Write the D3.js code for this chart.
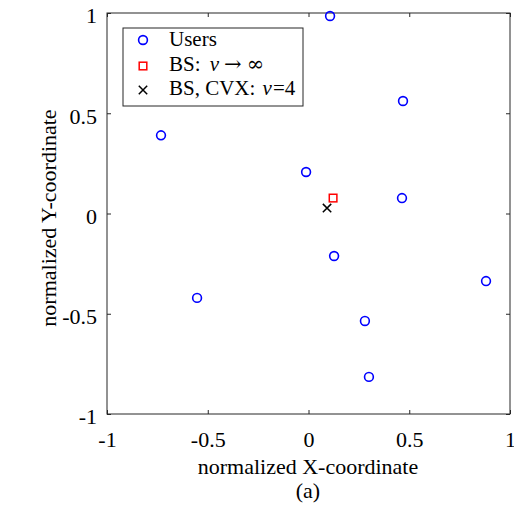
<!DOCTYPE html>
<html lang="en">
<head>
  <meta charset="UTF-8">
  <title>User and BS locations</title>
  <style>
    body { margin: 0; background: #fff; }
  </style>
  <script src="https://cdn.jsdelivr.net/npm/d3@7"></script>
</head>
<body>
  <script>
    // user locations (normalized)
    var usersX = [0.107, -0.732, 0.469, -0.012, 0.464, 0.127, -0.553, 0.881, 0.280, 0.300];
    var usersY = [0.985, 0.390, 0.561, 0.207, 0.077, -0.212, -0.421, -0.337, -0.536, -0.815];
    // BS for nu -> infinity
    var bsInfX = [0.122];
    var bsInfY = [0.077];
    // BS found by CVX for nu = 4
    var bsCvxX = [0.092];
    var bsCvxY = [0.027];
    var ticks = [-1, -0.5, 0, 0.5, 1];

    var W = 514, H = 506;
    var m = { left: 107, top: 13, right: 4, bottom: 92 };
    var w = W - m.left - m.right;
    var h = H - m.top - m.bottom;
    var axisColor = "#262626";
    var serif = "'Liberation Serif', 'Times New Roman', Times, serif";

    var svg = d3.select("body").append("svg").attr("width", W).attr("height", H)
      .attr("font-family", serif);
    var g = svg.append("g").attr("transform", "translate(" + m.left + "," + m.top + ")");

    var x = d3.scaleLinear().domain([-1, 1]).range([0, w]);
    var y = d3.scaleLinear().domain([-1, 1]).range([h, 0]);

    var fmt = function(d) { return String(d); };

    // axes with inward ticks, box on
    function styleAxis(sel) {
      sel.attr("font-family", serif).attr("font-size", 22);
      sel.select(".domain").remove();
      sel.selectAll("line").attr("stroke", axisColor);
      sel.selectAll("text").attr("fill", "#000");
    }
    g.append("g").attr("transform", "translate(0," + h + ")")
      .call(d3.axisBottom(x).tickValues(ticks).tickSizeInner(-4).tickSizeOuter(0).tickPadding(17).tickFormat(fmt))
      .call(styleAxis);
    g.append("g")
      .call(d3.axisTop(x).tickValues(ticks).tickSizeInner(-4).tickSizeOuter(0).tickFormat(""))
      .call(styleAxis);
    g.append("g")
      .call(d3.axisLeft(y).tickValues(ticks).tickSizeInner(-4).tickSizeOuter(0).tickPadding(10).tickFormat(fmt))
      .call(styleAxis)
      .selectAll("text").attr("dy", "0.45em");
    g.append("g").attr("transform", "translate(" + w + ",0)")
      .call(d3.axisRight(y).tickValues(ticks).tickSizeInner(-4).tickSizeOuter(0).tickFormat(""))
      .call(styleAxis);
    g.append("rect").attr("width", w).attr("height", h)
      .attr("fill", "none").attr("stroke", axisColor).attr("stroke-width", 1);

    // markers
    var users = usersX.map(function(v, i) { return [v, usersY[i]]; });
    g.selectAll(".user").data(users).enter().append("circle")
      .attr("class", "user")
      .attr("cx", function(d) { return x(d[0]); })
      .attr("cy", function(d) { return y(d[1]); })
      .attr("r", 4.4)
      .attr("fill", "none").attr("stroke", "#0000ff").attr("stroke-width", 1.6);

    var bsInf = bsInfX.map(function(v, i) { return [v, bsInfY[i]]; });
    g.selectAll(".bsinf").data(bsInf).enter().append("rect")
      .attr("x", function(d) { return x(d[0]) - 3.8; })
      .attr("y", function(d) { return y(d[1]) - 3.8; })
      .attr("width", 7.6).attr("height", 7.6)
      .attr("fill", "none").attr("stroke", "#ff0000").attr("stroke-width", 1.5);

    function cross(sel, s) {
      sel.append("path")
        .attr("d", "M" + (-s) + "," + (-s) + "L" + s + "," + s + "M" + (-s) + "," + s + "L" + s + "," + (-s))
        .attr("stroke", "#000").attr("stroke-width", 1.5).attr("fill", "none");
    }
    var bsCvx = bsCvxX.map(function(v, i) { return [v, bsCvxY[i]]; });
    g.selectAll(".bscvx").data(bsCvx).enter().append("g")
      .attr("transform", function(d) { return "translate(" + x(d[0]) + "," + y(d[1]) + ")"; })
      .call(cross, 4.2);

    // axis labels
    svg.append("text").attr("x", 308).attr("y", 474).attr("text-anchor", "middle")
      .attr("font-size", 22).text("normalized X-coordinate");
    svg.append("text").attr("x", 308).attr("y", 498).attr("text-anchor", "middle")
      .attr("font-size", 22).text("(a)");
    svg.append("text").attr("transform", "translate(56,218)rotate(-90)").attr("text-anchor", "middle")
      .attr("font-size", 22).text("normalized Y-coordinate");

    // legend
    var lg = svg.append("g").attr("transform", "translate(123,28)");
    lg.append("rect").attr("width", 180).attr("height", 78)
      .attr("fill", "#fff").attr("stroke", axisColor).attr("stroke-width", 1);
    var rows = [12, 38, 62];
    lg.append("circle").attr("cx", 20).attr("cy", rows[0]).attr("r", 4.4)
      .attr("fill", "none").attr("stroke", "#0000ff").attr("stroke-width", 1.6);
    lg.append("rect").attr("x", 20 - 3.8).attr("y", rows[1] - 3.8).attr("width", 7.6).attr("height", 7.6)
      .attr("fill", "none").attr("stroke", "#ff0000").attr("stroke-width", 1.5);
    lg.append("g").attr("transform", "translate(20," + rows[2] + ")").call(cross, 4.2);

    var fs = 21;
    lg.append("text").attr("x", 46).attr("y", 18).attr("font-size", fs).text("Users");
    var t2 = lg.append("text").attr("x", 46).attr("y", 43).attr("font-size", fs);
    t2.append("tspan").text("BS: ");
    t2.append("tspan").attr("font-style", "italic").attr("dx", 4).text("ν");
    t2.append("tspan").attr("font-family", "'DejaVu Serif', serif").attr("dx", 5).text("→");
    t2.append("tspan").attr("font-family", "'DejaVu Serif', serif").attr("dx", 5).text("∞");
    var t3 = lg.append("text").attr("x", 46).attr("y", 67).attr("font-size", fs);
    t3.append("tspan").text("BS, CVX: ");
    t3.append("tspan").attr("font-style", "italic").attr("dx", 2).text("ν");
    t3.append("tspan").attr("dx", 1).text("=4");
  </script>
</body>
</html>
